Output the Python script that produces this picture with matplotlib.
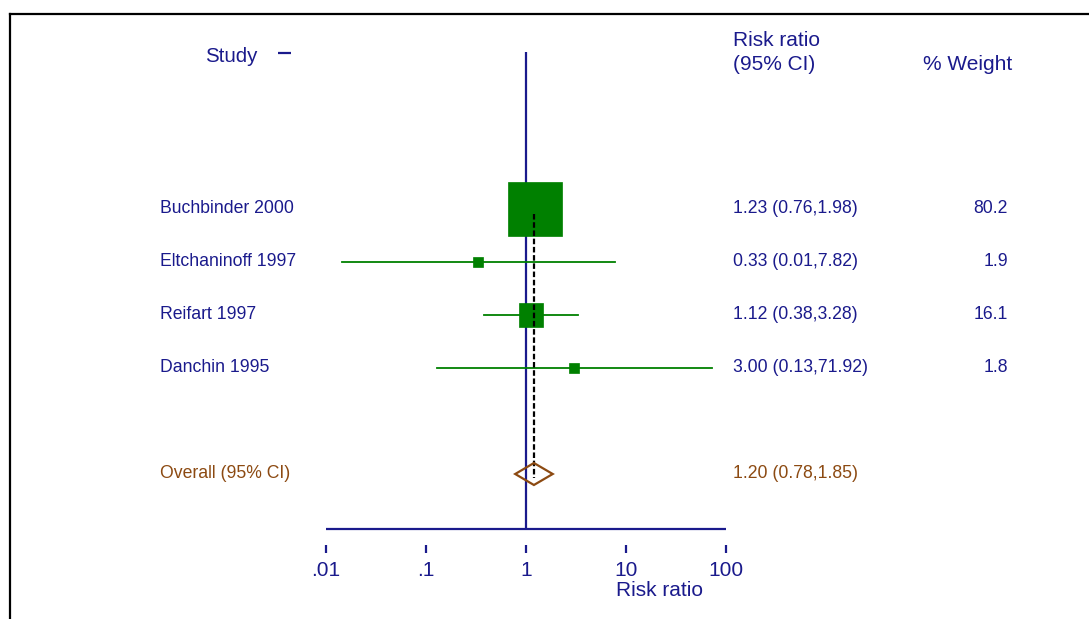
import matplotlib
matplotlib.use("Agg")
import matplotlib.pyplot as plt
from matplotlib.lines import Line2D
from matplotlib.patches import Polygon
import matplotlib.transforms as mtrans
import numpy as np

plt.rcParams['font.family'] = ['Liberation Sans', 'DejaVu Sans']

# ---- data ----
studies = ["Buchbinder 2000", "Eltchaninoff 1997", "Reifart 1997", "Danchin 1995"]
rr = [1.23, 0.33, 1.12, 3.00]
ci_low = [0.76, 0.0145, 0.38, 0.13]
ci_high = [1.98, 7.82, 3.28, 71.92]
ci_text = ["1.23 (0.76,1.98)", "0.33 (0.01,7.82)", "1.12 (0.38,3.28)", "3.00 (0.13,71.92)"]
weights = [80.2, 1.9, 16.1, 1.8]
overall_label = "Overall (95% CI)"
overall_rr = 1.20
overall_low = 0.78
overall_high = 1.85
overall_text = "1.20 (0.78,1.85)"
xticks = [0.01, 0.1, 1, 10, 100]
xticklabels = [".01", ".1", "1", "10", "100"]

NAVY = "#1a1a8c"
GREEN = "#008000"
BROWN = "#8c4a12"

W, H = 1089, 619
fig = plt.figure(figsize=(W / 100, H / 100), dpi=100)

def fx(px):
    return px / W

def fy(py):
    return 1 - py / H

# main axes: x log-scale spanning .01..100, y in row units over full height
ax = fig.add_axes([fx(326), 0, fx(726) - fx(326), 1])
ax.set_xscale("log")
ax.set_xlim(0.01, 100)
row0_px, row_step = 209, 53.0
ax.set_ylim((H - row0_px) / row_step, -row0_px / row_step)
ax.axis("off")

def rowpx(py):
    return (py - row0_px) / row_step

overall_row = 5

# vertical null line at 1
ax.plot([1, 1], [rowpx(52), rowpx(529)], color=NAVY, lw=1.6, clip_on=False, solid_capstyle="butt")
# horizontal axis line
ax.plot([0.01, 100], [rowpx(529), rowpx(529)], color=NAVY, lw=1.6, clip_on=False, solid_capstyle="butt")
# ticks
for t, lab in zip(xticks, xticklabels):
    ax.plot([t, t], [rowpx(545), rowpx(553)], color=NAVY, lw=1.6, clip_on=False, solid_capstyle="butt")
    ax.text(t, rowpx(571), lab, ha="center", va="center", fontsize=15, color=NAVY, clip_on=False)
ax.text(10 ** 1.34, rowpx(590), "Risk ratio", ha="center", va="center", fontsize=15, color=NAVY, clip_on=False)

# dashed overall line
ax.plot([overall_rr, overall_rr], [0.1, overall_row + 0.08], color="black", lw=1.6,
        ls=(0, (2.5, 1.2)), clip_on=False, zorder=4)

# studies
k = 54 / np.sqrt(max(weights))
for i, (r, lo, hi, w) in enumerate(zip(rr, ci_low, ci_high, weights)):
    ax.plot([lo, hi], [i, i], color=GREEN, lw=1.3, clip_on=False, zorder=2)
    side = max(k * np.sqrt(w), 10)
    ax.plot([r], [i], marker="s", ms=side * 0.72, color=GREEN, mec=GREEN, mew=0.5,
            ls="none", clip_on=False, zorder=3)

# overall diamond
h = 11 / row_step
diamond = Polygon([[overall_low, overall_row], [overall_rr, overall_row - h],
                   [overall_high, overall_row], [overall_rr, overall_row + h]],
                  closed=True, fill=False, edgecolor=BROWN, lw=1.6, zorder=5, clip_on=False)
ax.add_patch(diamond)

# texts
tr = mtrans.blended_transform_factory(fig.transFigure, ax.transData)
fs = 12.7
for i, (s, c, w) in enumerate(zip(studies, ci_text, weights)):
    ax.text(fx(160), i, s, transform=tr, ha="left", va="center", fontsize=fs, color=NAVY)
    ax.text(fx(733), i, c, transform=tr, ha="left", va="center", fontsize=fs, color=NAVY)
    ax.text(fx(1008), i, f"{w:.1f}", transform=tr, ha="right", va="center", fontsize=fs, color=NAVY)
ax.text(fx(160), overall_row, overall_label, transform=tr, ha="left", va="center", fontsize=fs, color=BROWN)
ax.text(fx(733), overall_row, overall_text, transform=tr, ha="left", va="center", fontsize=fs, color=BROWN)

# headers
fig.text(fx(205), fy(57), "Study", ha="left", va="center", fontsize=14.8, color=NAVY)
fig.add_artist(Line2D([fx(278), fx(291)], [fy(53), fy(53)], transform=fig.transFigure,
                      color=NAVY, lw=1.6, solid_capstyle="butt"))
fig.text(fx(733), fy(40), "Risk ratio", ha="left", va="center", fontsize=15, color=NAVY)
fig.text(fx(733), fy(65), "(95% CI)", ha="left", va="center", fontsize=15, color=NAVY)
fig.text(fx(923), fy(65), "% Weight", ha="left", va="center", fontsize=15, color=NAVY)

# outer frame (top and left edges visible)
fig.add_artist(Line2D([fx(10), fx(10)], [fy(14), 0], transform=fig.transFigure, color="black", lw=1.6))
fig.add_artist(Line2D([fx(10), 1], [fy(14), fy(14)], transform=fig.transFigure, color="black", lw=1.6))

fig.savefig("out.png", dpi=100)
